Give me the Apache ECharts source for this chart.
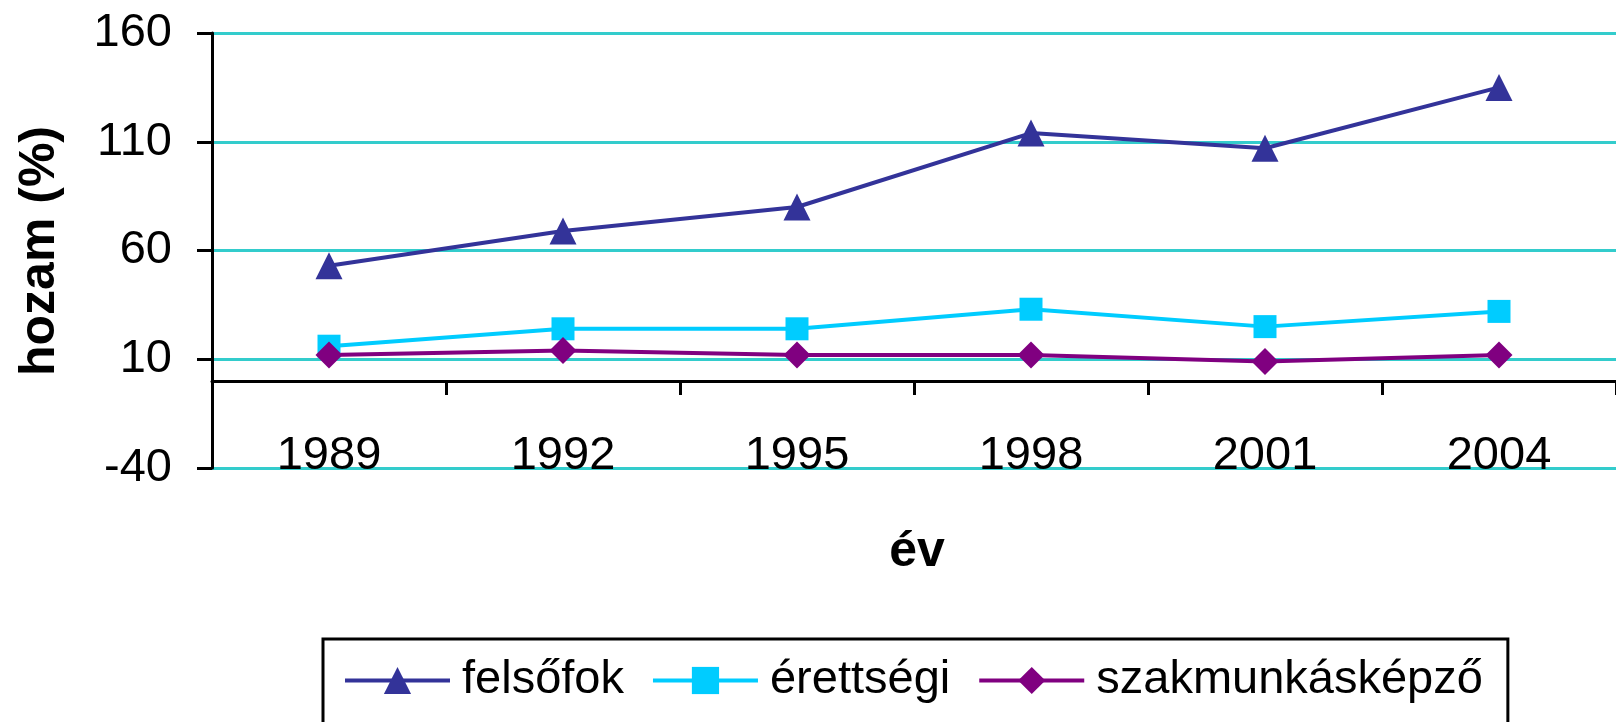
<!DOCTYPE html>
<html>
<head>
<meta charset="utf-8">
<script src="https://cdn.jsdelivr.net/npm/echarts@6/dist/echarts.min.js"></script>
<style>
  html, body { margin: 0; padding: 0; background: #fff; }
  #chart { width: 1616px; height: 722px; }
</style>
</head>
<body>
<div id="chart"></div>
<script>
const years = ['1989', '1992', '1995', '1998', '2001', '2004'];
const felsofok = [53, 69, 80, 114, 107, 135];
const erettsegi = [16, 24, 24, 33, 25, 32];
const szakmunkaskepzo = [12, 14, 12, 12, 9, 12];
const yTicks = { min: -40, max: 160, interval: 50 };

const FONT = '"Liberation Sans", Arial, sans-serif';
const chart = echarts.init(document.getElementById('chart'), null, { renderer: 'canvas' });

chart.setOption({
  animation: false,
  backgroundColor: '#ffffff',
  grid: { left: 212, right: 0, top: 33, bottom: 254, containLabel: false },
  xAxis: {
    type: 'category',
    data: years,
    boundaryGap: true,
    axisLine: { onZero: true, lineStyle: { color: '#000', width: 3 } },
    axisTick: { show: true, length: 14, lineStyle: { color: '#000', width: 3 } },
    axisLabel: { margin: -35, fontSize: 47, color: '#000', fontFamily: FONT },
    splitLine: { show: false }
  },
  yAxis: {
    type: 'value',
    min: yTicks.min, max: yTicks.max, interval: yTicks.interval,
    axisLine: { show: true, lineStyle: { color: '#000', width: 3 } },
    axisTick: { show: true, length: 15, lineStyle: { color: '#000', width: 3 } },
    axisLabel: { margin: 40, fontSize: 47, color: '#000', fontFamily: FONT },
    splitLine: { show: true, lineStyle: { color: '#33CCCC', width: 3 } }
  },
  legend: {
    left: 323, top: 639,
    orient: 'horizontal',
    itemWidth: 105, itemHeight: 34, itemGap: 27,
    borderColor: '#000', borderWidth: 3,
    padding: [18, 25, 40, 20],
    lineStyle: { width: 4 },
    textStyle: { fontSize: 47, color: '#000', fontFamily: FONT, padding: [0, 0, 0, 7] },
    data: ['felsőfok', 'érettségi', 'szakmunkásképző']
  },
  graphic: [
    {
      type: 'text', x: 40, y: 251, rotation: Math.PI / 2,
      style: { text: 'hozam (%)', font: 'bold 50px ' + FONT, fill: '#000', textAlign: 'center', textVerticalAlign: 'middle' }
    },
    {
      type: 'text', x: 917, y: 552,
      style: { text: 'év', font: 'bold 50px ' + FONT, fill: '#000', textAlign: 'center', textVerticalAlign: 'middle' }
    }
  ],
  series: [
    {
      name: 'felsőfok', type: 'line', data: felsofok,
      symbol: 'triangle', symbolSize: 27,
      lineStyle: { color: '#333399', width: 4 },
      itemStyle: { color: '#333399' }
    },
    {
      name: 'érettségi', type: 'line', data: erettsegi,
      symbol: 'rect', symbolSize: 23,
      lineStyle: { color: '#00CCFF', width: 4 },
      itemStyle: { color: '#00CCFF' }
    },
    {
      name: 'szakmunkásképző', type: 'line', data: szakmunkaskepzo,
      symbol: 'diamond', symbolSize: 27,
      lineStyle: { color: '#800080', width: 4 },
      itemStyle: { color: '#800080' }
    }
  ]
});
</script>
</body>
</html>
